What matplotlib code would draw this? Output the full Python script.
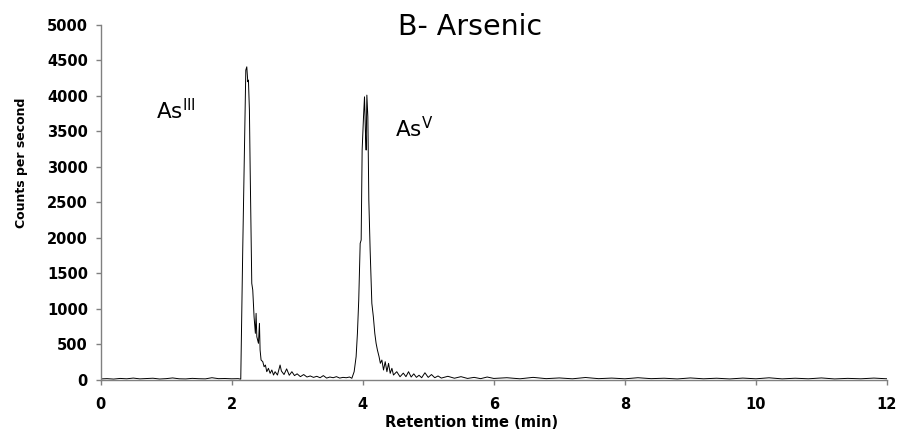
import matplotlib
matplotlib.use("Agg")
import matplotlib.pyplot as plt

# retention time (min) and counts per second
t_base1 = [0.0, 0.1, 0.2, 0.3, 0.4, 0.5, 0.6, 0.7, 0.8, 0.9, 1.0, 1.1, 1.2, 1.3,
           1.4, 1.5, 1.6, 1.7, 1.8, 1.9, 2.0, 2.1]
c_base1 = [8, 12, 6, 15, 10, 20, 9, 14, 18, 7, 12, 22, 10, 8, 16, 11, 9, 25, 12, 14, 10, 12]

t_peak1 = [2.14, 2.17, 2.217, 2.232, 2.247, 2.257, 2.272, 2.283, 2.308, 2.323, 2.343,
           2.363, 2.374, 2.385, 2.41, 2.425, 2.435, 2.45, 2.476, 2.496, 2.516, 2.537,
           2.562, 2.588, 2.614, 2.64, 2.664, 2.70, 2.74]
c_peak1 = [5, 1826, 4364, 4410, 4200, 4223, 3800, 3000, 1356, 1262, 885,
           651, 933, 603, 510, 792, 416, 275, 251, 180, 204, 110,
           158, 87, 134, 63, 110, 63, 204]

t_mid = [2.76, 2.8, 2.84, 2.88, 2.92, 2.96, 3.0, 3.05, 3.1, 3.15, 3.2, 3.25, 3.3,
         3.35, 3.4, 3.45, 3.5, 3.55, 3.6, 3.65, 3.7, 3.75, 3.8]
c_mid = [120, 70, 150, 60, 110, 55, 80, 40, 70, 35, 50, 30, 45, 25, 55, 20, 35, 25,
         40, 20, 30, 25, 35]

t_peak2 = [3.835, 3.87, 3.90, 3.92, 3.94, 3.962, 3.977, 3.992, 4.013, 4.028, 4.043,
           4.053, 4.064, 4.079, 4.094, 4.114, 4.14, 4.163, 4.185, 4.205, 4.225, 4.25,
           4.27, 4.293, 4.318, 4.344, 4.37, 4.395, 4.42, 4.446, 4.47, 4.52, 4.57]
c_peak2 = [17, 110, 322, 651, 1120, 1920, 1967, 3236, 3706, 3987, 3471,
           3236, 4011, 3706, 2531, 1826, 1074, 885, 651, 510, 416, 322,
           228, 275, 134, 251, 110, 228, 87, 158, 63, 110, 39]

t_base2 = [4.62, 4.66, 4.7, 4.74, 4.78, 4.82, 4.86, 4.9, 4.95, 5.0, 5.05, 5.1, 5.15,
           5.2, 5.3, 5.4, 5.5, 5.6, 5.7, 5.8, 5.9, 6.0, 6.2, 6.4, 6.6, 6.8, 7.0,
           7.2, 7.4, 7.6, 7.8, 8.0, 8.2, 8.4, 8.6, 8.8, 9.0, 9.2, 9.4, 9.6, 9.8,
           10.0, 10.2, 10.4, 10.6, 10.8, 11.0, 11.2, 11.4, 11.6, 11.8, 12.0]
c_base2 = [90, 40, 110, 35, 80, 30, 60, 25, 95, 30, 70, 25, 50,
           20, 45, 18, 40, 15, 30, 12, 35, 15, 25, 10, 30, 12, 22,
           10, 28, 12, 20, 10, 25, 12, 18, 8, 22, 10, 18, 8, 20,
           10, 24, 9, 18, 10, 22, 8, 16, 10, 20, 10]

time = t_base1 + t_peak1 + t_mid + t_peak2 + t_base2
counts = c_base1 + c_peak1 + c_mid + c_peak2 + c_base2

fig = plt.figure(figsize=(9.01, 4.38), dpi=100)
ax = fig.add_axes([100.5 / 901, 1 - 379.5 / 438, 786.5 / 901, 354.5 / 438])

ax.plot(time, counts, color="black", lw=0.7)

ax.set_xlim(0, 12)
ax.set_ylim(0, 5000)
ax.set_xticks(range(0, 13, 2))
ax.set_yticks(range(0, 5001, 500))

for s in ["top", "right"]:
    ax.spines[s].set_visible(False)
for s in ["left", "bottom"]:
    ax.spines[s].set_color("#808080")
    ax.spines[s].set_linewidth(1.0)

ax.tick_params(axis="both", direction="out", length=3.6, color="#808080", width=1.0)
ax.tick_params(axis="x", pad=9.0)
ax.tick_params(axis="y", pad=5.5)
for lab in ax.get_xticklabels() + ax.get_yticklabels():
    lab.set_fontweight("bold")
    lab.set_fontsize(10.5)

ax.text(0.85, 3673, r"As$^{\mathregular{III}}$", fontsize=15.5, va="baseline")
ax.text(4.50, 3420, r"As$^{\mathregular{V}}$", fontsize=15.5, va="baseline")

fig.text(470 / 901, 1 - 35 / 438, "B- Arsenic", ha="center", va="baseline", fontsize=20.5)
fig.text(22 / 901, 1 - 163 / 438, "Counts per second", rotation=90,
         ha="center", va="center", fontsize=9, fontweight="bold")
fig.text(472 / 901, 1 - 427 / 438, "Retention time (min)", ha="center",
         va="baseline", fontsize=10.5, fontweight="bold")

fig.savefig("out.png", dpi=100)
